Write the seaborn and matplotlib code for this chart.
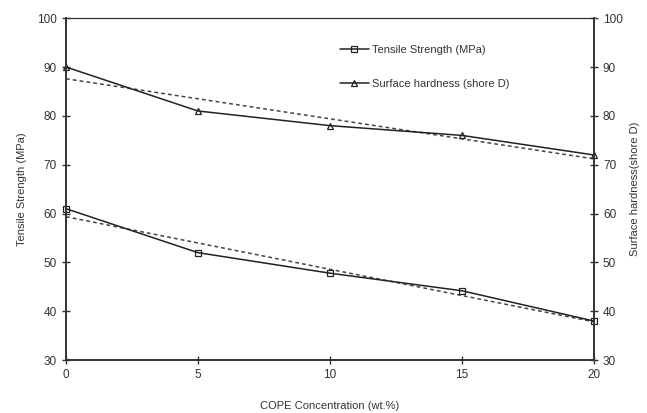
import numpy as np
import pandas as pd
import seaborn as sns
import matplotlib
matplotlib.use("Agg")
import matplotlib.pyplot as plt

### data ###
cope = [0, 5, 10, 15, 20]
tensile = [61, 52, 47.8, 44.2, 38]
hardness = [90, 81, 78, 76, 72]

df = pd.DataFrame({"cope": cope, "tensile": tensile, "hardness": hardness})

sns.set_style("ticks")
plt.rcParams['font.family'] = ['Liberation Sans', 'DejaVu Sans']
plt.rcParams['font.size'] = 8
txt = "#333333"

fig, ax = plt.subplots(figsize=(6.47, 4.13), dpi=100)
fig.subplots_adjust(left=0.102, right=0.918, top=0.956, bottom=0.128)

# linear trend lines (dashed)
sns.regplot(data=df, x="cope", y="tensile", ax=ax, ci=None, scatter=False,
            line_kws=dict(color="#444444", lw=1.1, ls=(0, (2.5, 2))))
sns.regplot(data=df, x="cope", y="hardness", ax=ax, ci=None, scatter=False,
            line_kws=dict(color="#444444", lw=1.1, ls=(0, (2.5, 2))))

# data lines
sns.lineplot(data=df, x="cope", y="tensile", ax=ax, color="#222222", lw=1.1,
             marker="s", markersize=4, markerfacecolor="none",
             markeredgecolor="#222222", markeredgewidth=0.9, clip_on=False,
             label="Tensile Strength (MPa)")
sns.lineplot(data=df, x="cope", y="hardness", ax=ax, color="#222222", lw=1.1,
             marker="^", markersize=4.5, markerfacecolor="none",
             markeredgecolor="#222222", markeredgewidth=0.9, clip_on=False,
             label="Surface hardness (shore D)")

ax.set_xlim(0, 20)
ax.set_ylim(30, 100)
ax.set_xticks([0, 5, 10, 15, 20])
ax.set_yticks(range(30, 101, 10))
ax.tick_params(direction="inout", length=6, width=1, colors="#333333",
               labelcolor=txt, labelsize=8.5)
ax.set_xlabel("COPE Concentration (wt.%)", color=txt, fontsize=8, labelpad=14)
ax.set_ylabel("Tensile Strength (MPa)", color=txt, fontsize=8, labelpad=7)

ax2 = ax.twinx()
ax2.set_ylim(30, 100)
ax2.set_yticks(range(30, 101, 10))
ax2.tick_params(direction="inout", length=6, width=1, colors="#333333",
                labelcolor=txt, labelsize=8.5)
ax2.set_ylabel("Surface hardness(shore D)", color=txt, fontsize=8, labelpad=5)

for a in (ax, ax2):
    for s in a.spines.values():
        s.set_color("#333333")
        s.set_linewidth(1.2)
ax.spines["top"].set_linewidth(0.8)
ax2.spines["top"].set_linewidth(0.8)

leg = ax.legend(loc="upper left", bbox_to_anchor=(0.5, 0.95), frameon=False,
                fontsize=8, handlelength=2.6, handletextpad=0.3, labelspacing=2.1)
for t in leg.get_texts():
    t.set_color(txt)

plt.savefig("out.png", dpi=100)
